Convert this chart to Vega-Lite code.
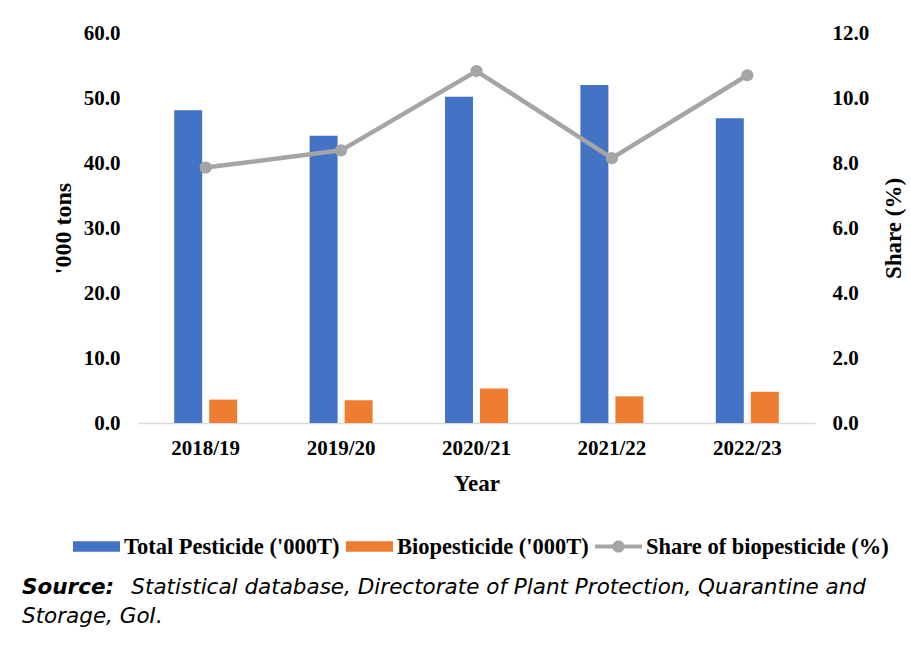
{
  "$schema": "https://vega.github.io/schema/vega-lite/v6.json",
  "width": 677,
  "height": 390,
  "autosize": {"type": "none"},
  "padding": {"left": 138, "top": 33, "right": 96, "bottom": 231},
  "background": "white",
  "config": {"view": {"stroke": null}, "font": "Liberation Serif"},
  "data": {"values": [
    {"year": "2018/19", "series": "Total Pesticide ('000T)", "value": 48.1},
    {"year": "2019/20", "series": "Total Pesticide ('000T)", "value": 44.2},
    {"year": "2020/21", "series": "Total Pesticide ('000T)", "value": 50.2},
    {"year": "2021/22", "series": "Total Pesticide ('000T)", "value": 52.0},
    {"year": "2022/23", "series": "Total Pesticide ('000T)", "value": 46.9},
    {"year": "2018/19", "series": "Biopesticide ('000T)", "value": 3.6},
    {"year": "2019/20", "series": "Biopesticide ('000T)", "value": 3.5},
    {"year": "2020/21", "series": "Biopesticide ('000T)", "value": 5.3},
    {"year": "2021/22", "series": "Biopesticide ('000T)", "value": 4.1},
    {"year": "2022/23", "series": "Biopesticide ('000T)", "value": 4.8},
    {"year": "2018/19", "series": "Share of biopesticide (%)", "value": 7.86},
    {"year": "2019/20", "series": "Share of biopesticide (%)", "value": 8.39},
    {"year": "2020/21", "series": "Share of biopesticide (%)", "value": 10.83},
    {"year": "2021/22", "series": "Share of biopesticide (%)", "value": 8.15},
    {"year": "2022/23", "series": "Share of biopesticide (%)", "value": 10.7}
  ]},
  "title": {
    "text": "Source:",
    "subtitle": ["\u200b\u00a0\u00a0\u00a0\u00a0\u00a0\u00a0\u00a0\u00a0\u00a0\u00a0\u00a0\u00a0\u00a0\u00a0\u00a0\u00a0Statistical database, Directorate of Plant Protection, Quarantine and", "Storage, GoI."],
    "orient": "bottom",
    "anchor": "start",
    "frame": "group",
    "dx": -116,
    "offset": 19,
    "font": "DejaVu Sans",
    "fontStyle": "italic",
    "fontWeight": "bold",
    "fontSize": 21.5,
    "color": "black",
    "subtitleFont": "DejaVu Sans",
    "subtitleFontStyle": "italic",
    "subtitleFontWeight": "normal",
    "subtitleFontSize": 21.5,
    "subtitleColor": "black",
    "subtitleLineHeight": 29,
    "subtitlePadding": -21.5
  },
  "layer": [
    {
      "transform": [{"filter": "datum.series !== 'Share of biopesticide (%)'"}],
      "mark": {"type": "bar"},
      "encoding": {
        "x": {
          "field": "year", "type": "nominal", "title": "Year",
          "scale": {"paddingInner": 0.535, "paddingOuter": 0.2675},
          "axis": {
            "labelAngle": 0, "labelFont": "Liberation Serif", "labelFontWeight": "bold",
            "labelFontSize": 21, "labelColor": "black", "labelPadding": 14,
            "ticks": false, "domainColor": "#D9D9D9", "domainWidth": 1.5,
            "titleFont": "Liberation Serif", "titleFontSize": 23, "titleFontWeight": "bold",
            "titleColor": "black", "titlePadding": 14
          }
        },
        "xOffset": {
          "field": "series", "type": "nominal",
          "scale": {"domain": ["Total Pesticide ('000T)", "Biopesticide ('000T)"], "paddingInner": 0.2, "paddingOuter": 0}
        },
        "y": {
          "field": "value", "type": "quantitative", "title": "'000 tons",
          "scale": {"domain": [0, 60]},
          "axis": {
            "values": [0, 10, 20, 30, 40, 50, 60], "format": ".1f", "grid": false,
            "domain": false, "ticks": false, "labelPadding": 18,
            "labelFont": "Liberation Serif", "labelFontWeight": "bold", "labelFontSize": 21,
            "labelColor": "black",
            "titleFont": "Liberation Serif", "titleFontSize": 24, "titleFontWeight": "bold",
            "titleColor": "black", "titlePadding": 8
          }
        },
        "color": {
          "field": "series", "type": "nominal",
          "scale": {
            "domain": ["Total Pesticide ('000T)", "Biopesticide ('000T)", "Share of biopesticide (%)"],
            "range": ["#4472C4", "#ED7D31", "#A5A5A5"]
          },
          "legend": {
            "orient": "none", "legendX": -65, "legendY": 490, "direction": "horizontal",
            "title": null, "labelFont": "Liberation Serif", "labelFontWeight": "bold",
            "labelFontSize": 22.5, "labelColor": "black", "labelOffset": 4, "columnPadding": 6,
            "labelLimit": 0,
            "symbolSize": 2209, "symbolType": "M-1,-0.22H1V0.22H-1Z", "symbolStrokeWidth": 0,
            "encode": {
              "symbols": {
                "update": {
                  "shape": {"signal": "datum.value === 'Share of biopesticide (%)' ? 'M-1,-0.085H1V0.085H-1Z M0.26,0A0.26,0.26 0 1,1 -0.26,0A0.26,0.26 0 1,1 0.26,0Z' : 'M-1,-0.22H1V0.22H-1Z'"},
                  "fill": {"signal": "scale('color', datum.value)"},
                  "fillOpacity": {"value": 1},
                  "opacity": {"value": 1},
                  "strokeWidth": {"value": 0}
                }
              }
            }
          }
        }
      }
    },
    {
      "transform": [{"filter": "datum.series === 'Share of biopesticide (%)'"}],
      "mark": {"type": "line", "strokeWidth": 4.5, "point": {"size": 150, "filled": true}},
      "encoding": {
        "x": {"field": "year", "type": "nominal"},
        "y": {
          "field": "value", "type": "quantitative", "title": "Share (%)",
          "scale": {"domain": [0, 12]},
          "axis": {
            "orient": "right",
            "values": [0, 2, 4, 6, 8, 10, 12], "format": ".1f", "grid": false,
            "domain": false, "ticks": false, "labelPadding": 17,
            "labelFont": "Liberation Serif", "labelFontWeight": "bold", "labelFontSize": 21,
            "labelColor": "black",
            "titleFont": "Liberation Serif", "titleFontSize": 23, "titleFontWeight": "bold",
            "titleColor": "black", "titlePadding": 14, "titleAngle": -90, "titleBaseline": "top"
          }
        },
        "color": {"field": "series", "type": "nominal"}
      }
    }
  ],
  "resolve": {"scale": {"y": "independent"}}
}
